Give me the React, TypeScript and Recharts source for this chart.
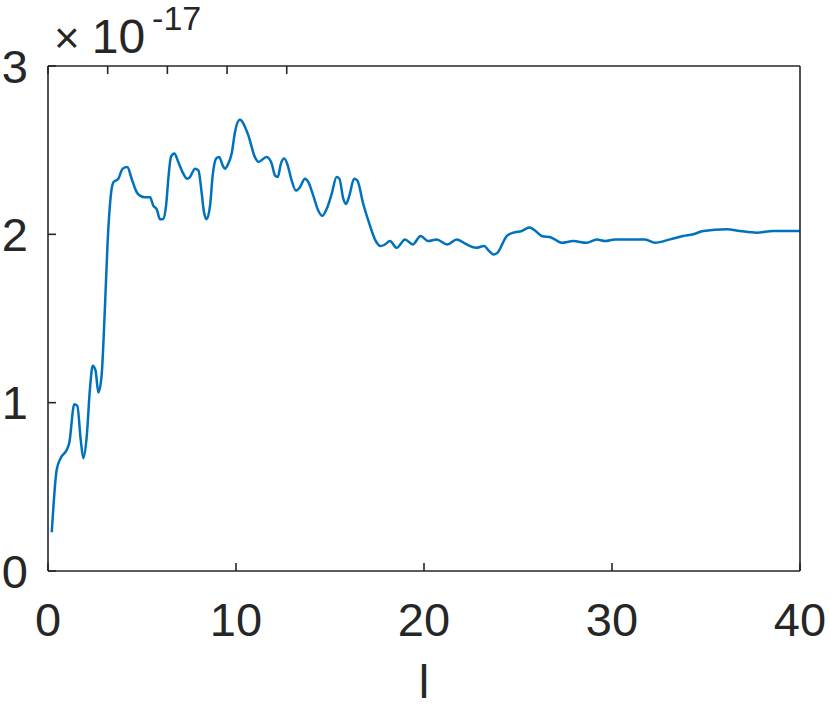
import React from 'react';
import { LineChart, Line, XAxis, YAxis } from 'recharts';

// l values (x) and response in units of 1e-17 (y)
const lValues = [
  0.2, 0.46, 0.67, 1.0, 1.13, 1.4, 1.56, 1.74, 1.88, 2.06, 2.23, 2.38, 2.53, 2.68, 2.85,
  3.03, 3.17, 3.33, 3.48, 3.74, 3.97, 4.22, 4.45, 4.72, 4.89, 5.16, 5.43, 5.6, 5.78, 5.96,
  6.13, 6.28, 6.4, 6.54, 6.72, 6.93, 7.2, 7.41, 7.55, 7.82, 8.0, 8.17, 8.3, 8.44, 8.62,
  8.76, 8.94, 9.1, 9.29, 9.41, 9.59, 9.77, 9.95, 10.2, 10.65, 11.0, 11.19, 11.63, 11.9,
  12.07, 12.22, 12.39, 12.57, 12.75, 12.96, 13.19, 13.4, 13.67, 13.85, 14.11, 14.38,
  14.59, 14.82, 15.09, 15.35, 15.5, 15.71, 15.85, 16.03, 16.28, 16.45, 16.77, 17.13,
  17.39, 17.7, 17.93, 18.19, 18.55, 18.99, 19.4, 19.82, 20.23, 20.67, 21.24, 21.74,
  22.27, 22.77, 23.19, 23.47, 23.69, 23.9, 24.4, 24.75, 25.2, 25.6, 25.82, 26.26, 26.79,
  27.32, 27.94, 28.65, 29.19, 29.63, 30.16, 31.13, 31.76, 32.29, 33.09, 33.79, 34.32,
  34.86, 36.1, 36.8, 37.7, 38.58, 39.47, 40,
];

const yValues = [
  0.23, 0.6, 0.67, 0.72, 0.76, 0.99, 0.98, 0.78, 0.67, 0.8, 1.08, 1.22, 1.19, 1.06, 1.16,
  1.57, 1.95, 2.22, 2.31, 2.33, 2.39, 2.4, 2.33, 2.25, 2.23, 2.22, 2.22, 2.17, 2.15, 2.09,
  2.09, 2.17, 2.33, 2.46, 2.48, 2.43, 2.36, 2.33, 2.34, 2.39, 2.38, 2.25, 2.13, 2.09, 2.17,
  2.35, 2.45, 2.46, 2.41, 2.39, 2.42, 2.48, 2.61, 2.68, 2.59, 2.46, 2.43, 2.46, 2.42,
  2.35, 2.34, 2.42, 2.45, 2.41, 2.32, 2.26, 2.28, 2.33, 2.31, 2.23, 2.14,
  2.11, 2.15, 2.24, 2.34, 2.33, 2.21, 2.18, 2.23, 2.33, 2.32, 2.18, 2.05,
  1.97, 1.93, 1.94, 1.96, 1.92, 1.97, 1.94, 1.99, 1.96, 1.97, 1.94, 1.97,
  1.94, 1.92, 1.93, 1.9, 1.88, 1.89, 1.99, 2.01, 2.02, 2.04, 2.03, 1.99, 1.98,
  1.95, 1.96, 1.95, 1.97, 1.96, 1.97, 1.97, 1.97, 1.95, 1.97, 1.99, 2.0,
  2.02, 2.03, 2.02, 2.01, 2.02, 2.02, 2.02,
];

const xTicks = [0, 10, 20, 30, 40];
const yTicks = [0, 1, 2, 3];

const data = lValues.map((l, i) => ({ l, v: yValues[i] }));

const axisColor = '#262626';
const font = '"Liberation Sans", Arial, Helvetica, sans-serif';
const tickStyle = { fontSize: 47, fill: axisColor, fontFamily: font };

export default function App() {
  return (
    <div style={{ position: 'absolute', left: 0, top: 0, width: 830, height: 709 }}>
      <LineChart
        width={830}
        height={709}
        data={data}
        margin={{ top: 56, right: 0, bottom: 0, left: 0 }}
      >
        <XAxis
          dataKey="l"
          type="number"
          domain={[0, 40]}
          ticks={xTicks}
          interval={0}
          height={138}
          tickSize={-8}
          tickMargin={40}
          tick={tickStyle}
          stroke={axisColor}
          strokeWidth={1.6}
          allowDataOverflow
          label={{
            value: 'l',
            position: 'insideBottom',
            offset: 11,
            style: { fontSize: 47, fill: axisColor, fontFamily: font },
          }}
        />
        <XAxis
          xAxisId="top"
          orientation="top"
          type="number"
          domain={[0, 40]}
          ticks={xTicks}
          interval={0}
          height={10}
          tickSize={-8}
          tickFormatter={() => ''}
          stroke={axisColor}
          strokeWidth={1.6}
        />
        <YAxis
          type="number"
          domain={[0, 3]}
          ticks={yTicks}
          interval={0}
          width={48}
          tickSize={-8}
          tickMargin={28}
          tick={tickStyle}
          stroke={axisColor}
          strokeWidth={1.6}
          label={{
            content: () => (
              <text x={54} y={53} fill={axisColor} fontFamily={font}>
                <tspan fontSize={44}>×</tspan>
                <tspan fontSize={48} dx={12}>10</tspan>
                <tspan fontSize={34} dx={7} dy={-23}>-17</tspan>
              </text>
            ),
          }}
        />
        <YAxis
          yAxisId="right"
          orientation="right"
          type="number"
          domain={[0, 3]}
          ticks={yTicks}
          interval={0}
          width={30}
          tickSize={-8}
          tickFormatter={() => ''}
          stroke={axisColor}
          strokeWidth={1.6}
        />
        <Line
          type="monotone"
          dataKey="v"
          stroke="#0072BD"
          strokeWidth={2.5}
          dot={false}
          activeDot={false}
          isAnimationActive={false}
        />
      </LineChart>
    </div>
  );
}
